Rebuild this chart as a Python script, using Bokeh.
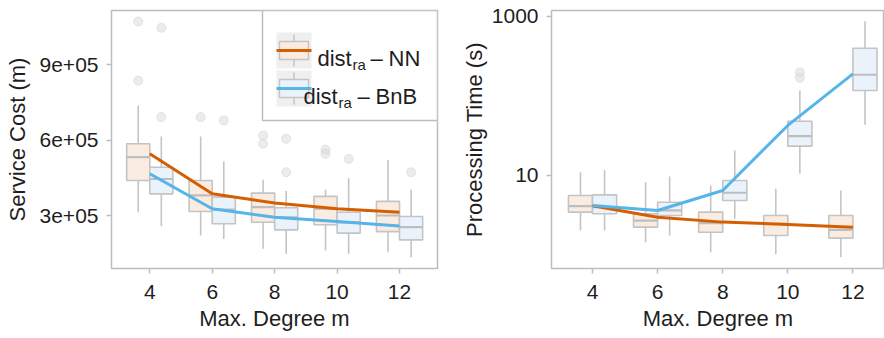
from bokeh.plotting import figure
from bokeh.layouts import row
from bokeh.models import Range1d, FixedTicker, CustomJSTickFormatter, PrintfTickFormatter, ColumnDataSource
from bokeh.core.properties import value
from bokeh.embed import file_html
from bokeh.resources import INLINE

# ---- data -------------------------------------------------------------
degrees = [4, 6, 8, 10, 12]

# Service cost (m): box statistics per degree
cost_nn_whi_lo = [3.13e5, 2.21e5, 1.68e5, 1.61e5, 1.54e5]
cost_nn_q1     = [4.39e5, 3.16e5, 2.73e5, 2.63e5, 2.36e5]
cost_nn_med    = [5.32e5, 3.80e5, 3.33e5, 3.27e5, 3.00e5]
cost_nn_q3     = [5.85e5, 4.39e5, 3.89e5, 3.76e5, 3.56e5]
cost_nn_whi_hi = [7.37e5, 6.14e5, 4.42e5, 4.02e5, 5.21e5]
cost_nn_mean   = [5.45e5, 3.86e5, 3.50e5, 3.27e5, 3.13e5]
cost_nn_out_m  = [4, 4, 6, 8, 8, 10, 10]
cost_nn_out_v  = [1.071e6, 8.36e5, 6.91e5, 6.18e5, 5.85e5, 5.62e5, 5.45e5]

cost_bnb_whi_lo = [2.58e5, 2.07e5, 1.48e5, 1.48e5, 1.34e5]
cost_bnb_q1     = [3.86e5, 2.67e5, 2.43e5, 2.30e5, 2.03e5]
cost_bnb_med    = [4.45e5, 3.23e5, 2.93e5, 2.73e5, 2.54e5]
cost_bnb_q3     = [4.92e5, 3.73e5, 3.31e5, 3.13e5, 2.96e5]
cost_bnb_whi_hi = [6.14e5, 5.15e5, 3.97e5, 4.48e5, 4.02e5]
cost_bnb_mean   = [4.66e5, 3.27e5, 2.93e5, 2.76e5, 2.58e5]
cost_bnb_out_m  = [4, 4, 6, 8, 8, 10, 12]
cost_bnb_out_v  = [1.046e6, 6.91e5, 6.78e5, 6.05e5, 4.72e5, 5.25e5, 4.72e5]

# Processing time (s)
time_nn_whi_lo = [2.03, 1.45, 1.08, 1.03, 0.94]
time_nn_q1     = [3.46, 2.24, 1.93, 1.76, 1.63]
time_nn_med    = [4.11, 2.71, 2.51, 2.47, 2.07]
time_nn_q3     = [5.60, 3.30, 3.46, 3.14, 3.14]
time_nn_whi_hi = [11.0, 8.24, 7.49, 6.80, 6.47]
time_nn_mean   = [4.15, 2.99, 2.59, 2.42, 2.23]

time_bnb_whi_lo = [2.03, 1.76, 2.85, 10.5, 43.5]
time_bnb_q1     = [3.30, 3.14, 4.85, 23.4, 117.0]
time_bnb_med    = [4.00, 3.63, 6.06, 31.2, 185.0]
time_bnb_q3     = [5.71, 4.61, 8.65, 48.2, 399.0]
time_bnb_whi_hi = [11.6, 9.71, 20.6, 117.0, 873.0]
time_bnb_mean   = [4.19, 3.63, 6.48, 42.6, 190.0]
time_bnb_out_m  = [10, 10]
time_bnb_out_v  = [199.0, 169.0]

# ---- style ------------------------------------------------------------
FONT = "Liberation Sans"
ORANGE = "#D55E00"
BLUE = "#56B4E9"
NN_FILL = "#FBECE1"
BNB_FILL = "#EAF3FC"
GREY = "#C4C4C4"
FRAME = "#BDBDBD"
TXT = "#1E1E1E"
DODGE = 0.37
BOXW = 0.74


def style_axes(p, ylabel, ylabel_standoff):
    p.outline_line_color = FRAME
    p.outline_line_width = 1.5
    p.xgrid.visible = False
    p.ygrid.visible = False
    p.background_fill_color = "white"
    p.border_fill_color = "white"
    for ax in (p.xaxis[0], p.yaxis[0]):
        ax.axis_line_color = None
        ax.major_tick_line_color = FRAME
        ax.major_tick_line_width = 1.5
        ax.major_tick_out = 5
        ax.major_tick_in = 0
        ax.minor_tick_line_color = None
        ax.major_label_text_font = FONT
        ax.major_label_text_font_size = "21px"
        ax.major_label_text_color = TXT
        ax.axis_label_text_font = FONT
        ax.axis_label_text_font_size = "22px"
        ax.axis_label_text_font_style = "normal"
        ax.axis_label_text_color = TXT
    p.xaxis[0].ticker = FixedTicker(ticks=degrees)
    p.xaxis[0].axis_label = "Max. Degree m"
    p.xaxis[0].major_label_standoff = 11
    p.xaxis[0].axis_label_standoff = 4
    p.yaxis[0].axis_label = ylabel
    p.yaxis[0].major_label_standoff = 8
    p.yaxis[0].axis_label_standoff = ylabel_standoff


def boxes(p, offset, fill, lo, q1, med, q3, hi, out_m=None, out_v=None):
    xs = [d + offset for d in degrees]
    src = ColumnDataSource(dict(x=xs, lo=lo, q1=q1, med=med, q3=q3, hi=hi,
                                x0=[x - BOXW / 2 for x in xs],
                                x1=[x + BOXW / 2 for x in xs]))
    p.segment(x0="x", y0="q3", x1="x", y1="hi", source=src,
              line_color=GREY, line_width=1.6)
    p.segment(x0="x", y0="lo", x1="x", y1="q1", source=src,
              line_color=GREY, line_width=1.6)
    p.quad(left="x0", right="x1", bottom="q1", top="q3", source=src,
           fill_color=fill, line_color=GREY, line_width=1.6)
    p.segment(x0="x0", y0="med", x1="x1", y1="med", source=src,
              line_color="#BEBEBE", line_width=2.2)
    if out_m:
        p.scatter([m + offset for m in out_m], out_v, size=9,
                  fill_color="#DADADA", fill_alpha=0.5,
                  line_color="#CFCFCF", line_alpha=0.5)


# ---- left panel: service cost -----------------------------------------
p1 = figure(width=440, height=338, output_backend="svg", toolbar_location=None,
            x_range=Range1d(2.774, 13.216), y_range=Range1d(0.894e5, 1.1146e6),
            min_border_left=111, min_border_right=3, min_border_top=10,
            min_border_bottom=70)
style_axes(p1, "Service Cost (m)", 7)
p1.yaxis[0].ticker = FixedTicker(ticks=[3e5, 6e5, 9e5])
p1.yaxis[0].formatter = CustomJSTickFormatter(
    code="var s = tick.toExponential(0); return s.replace(/e([+-])(\\d)$/, 'e$10$2');")

boxes(p1, -DODGE, NN_FILL, cost_nn_whi_lo, cost_nn_q1, cost_nn_med, cost_nn_q3,
      cost_nn_whi_hi, cost_nn_out_m, cost_nn_out_v)
boxes(p1, DODGE, BNB_FILL, cost_bnb_whi_lo, cost_bnb_q1, cost_bnb_med, cost_bnb_q3,
      cost_bnb_whi_hi, cost_bnb_out_m, cost_bnb_out_v)
p1.line(degrees, cost_nn_mean, line_color=ORANGE, line_width=3)
p1.line(degrees, cost_bnb_mean, line_color=BLUE, line_width=3)

# legend drawn in frame-pixel coordinates
p1.extra_x_ranges = {"lx": Range1d(0, 326)}
p1.extra_y_ranges = {"ly": Range1d(0, 258)}
L = dict(x_range_name="lx", y_range_name="ly")
p1.quad(left=[151], right=[326], bottom=[148], top=[258], fill_color="white",
        line_color=FRAME, line_width=1.5, **L)
key_rows = [(218, 236, 200, NN_FILL, ORANGE), (180, 198, 162, BNB_FILL, BLUE)]
for mid, ktop, kbot, fill, col in key_rows:
    p1.quad(left=[165], right=[200], bottom=[kbot], top=[ktop],
            fill_color="#EFEFEF", line_color=None, **L)
    p1.segment(x0=[182.5, 182.5], y0=[ktop - 2, kbot + 2], x1=[182.5, 182.5],
               y1=[mid + 9, mid - 9], line_color=GREY, line_width=1.5, **L)
    p1.quad(left=[168], right=[197], bottom=[mid - 9], top=[mid + 9],
            fill_color=fill, line_color=GREY, line_width=1.5, **L)
    p1.segment(x0=[165], y0=[mid], x1=[200], y1=[mid], line_color=col,
               line_width=3, **L)

leg_text = [
    (206, 210.5, "dist", "22px"), (241, 204.5, "ra", "15px"),
    (259, 210.5, "\u2013", "22px"), (277, 210.5, "NN", "22px"),
    (192, 172, "dist", "22px"), (227, 166.5, "ra", "15px"),
    (246, 172, "\u2013", "22px"), (264, 172, "BnB", "22px"),
]
for x, y, t, fs in leg_text:
    p1.text(x=[x], y=[y], text=[t], text_font=value(FONT), text_font_size=fs,
            text_color=TXT, text_baseline="alphabetic", text_align="left", **L)

# ---- right panel: processing time -------------------------------------
p2 = figure(width=444, height=338, output_backend="svg", toolbar_location=None,
            y_axis_type="log",
            x_range=Range1d(2.74, 12.97), y_range=Range1d(0.676, 1189),
            min_border_left=111, min_border_right=0, min_border_top=10,
            min_border_bottom=70)
style_axes(p2, "Processing Time (s)", 2)
p2.yaxis[0].ticker = FixedTicker(ticks=[10, 1000])
p2.yaxis[0].formatter = PrintfTickFormatter(format="%d")

boxes(p2, -DODGE, NN_FILL, time_nn_whi_lo, time_nn_q1, time_nn_med, time_nn_q3,
      time_nn_whi_hi)
boxes(p2, DODGE, BNB_FILL, time_bnb_whi_lo, time_bnb_q1, time_bnb_med, time_bnb_q3,
      time_bnb_whi_hi, time_bnb_out_m, time_bnb_out_v)
p2.line(degrees, time_nn_mean, line_color=ORANGE, line_width=3)
p2.line(degrees, time_bnb_mean, line_color=BLUE, line_width=3)

layout = row(p1, p2)
open("out.html", "w").write(file_html(layout, INLINE))
